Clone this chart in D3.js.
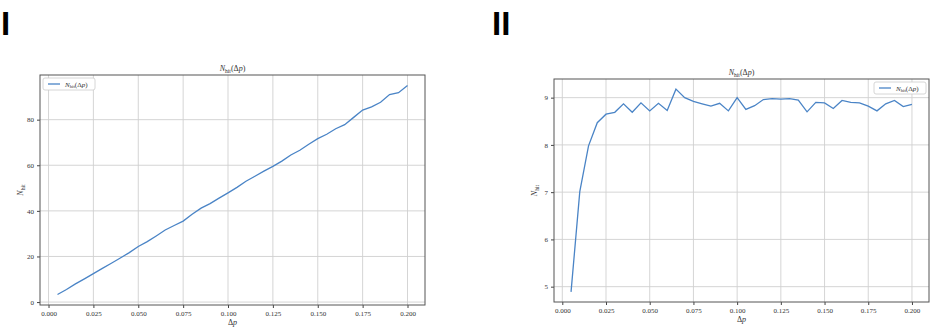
<!DOCTYPE html>
<html>
<head>
<meta charset="utf-8">
<script src="https://cdn.jsdelivr.net/npm/d3@7"></script>
<style>
  body { margin:0; background:#fff; }
  svg text { font-family: "Liberation Serif", "DejaVu Serif", serif; fill:#333; }
  .big { font-family: "Liberation Sans", "DejaVu Sans", sans-serif !important; font-weight:bold; fill:#000 !important; }
</style>
</head>
<body>
<div id="chart"></div>
<script>
// data, step 0.005
var dp = d3.range(1, 41).map(function(i){ return +(i*0.005).toFixed(3); });

var nhitI = [3.3, 5.5, 8, 10.2, 12.5, 14.8, 17, 19.3, 21.7, 24.4,
             26.5, 29, 31.6, 33.6, 35.5, 38.5, 41.2, 43.2, 45.6, 47.9,
             50.3, 53, 55.2, 57.4, 59.5, 61.8, 64.5, 66.6, 69.2, 71.7,
             73.6, 76, 77.8, 81, 84.2, 85.6, 87.6, 91, 91.8, 95];

var nhitII = [4.89, 7.01, 7.98, 8.47, 8.65, 8.69, 8.87, 8.69, 8.89, 8.72,
              8.88, 8.73, 9.18, 9.0, 8.92, 8.87, 8.82, 8.88, 8.72, 9.0,
              8.75, 8.83, 8.96, 8.98, 8.97, 8.98, 8.95, 8.70, 8.90, 8.89,
              8.77, 8.94, 8.90, 8.89, 8.82, 8.72, 8.87, 8.94, 8.81, 8.86];

var xTicks = [0, 0.025, 0.05, 0.075, 0.1, 0.125, 0.15, 0.175, 0.2];
var yTicksI = [0, 20, 40, 60, 80];
var yTicksII = [5, 6, 7, 8, 9];

var svg = d3.select("#chart").append("svg")
    .attr("width", 936).attr("height", 327);

svg.append("text").attr("class","big").attr("x", 1).attr("y", 35)
   .attr("font-size", 33).text("I");
svg.append("text").attr("class","big").attr("x", 492).attr("y", 35)
   .attr("font-size", 33).text("II");

function nhitLabel(sel, size){
  sel.append("tspan").attr("font-style","italic").attr("font-size", size).text("N");
  sel.append("tspan").attr("font-size", size*0.7).attr("dy", size*0.2).text("hit");
  sel.append("tspan").attr("font-size", size).attr("dy", -size*0.2).text("(Δ");
  sel.append("tspan").attr("font-size", size).attr("font-style","italic").text("p");
  sel.append("tspan").attr("font-size", size).text(")");
}

function panel(box, ys, yTicks, legendRight){
  var lo = d3.min(ys), hi = d3.max(ys), m = (hi-lo)*0.05;
  var xm = (0.2-0.005)*0.05;
  var x = d3.scaleLinear().domain([0.005-xm, 0.2+xm]).range([box.x0, box.x1]);
  var y = d3.scaleLinear().domain([lo-m, hi+m]).range([box.y1, box.y0]);
  var g = svg.append("g");

  // grid
  g.selectAll(".gx").data(xTicks).enter().append("line")
    .attr("x1", function(d){return x(d);}).attr("x2", function(d){return x(d);})
    .attr("y1", box.y0).attr("y2", box.y1)
    .attr("stroke", "#d0d0d0").attr("stroke-width", 0.9);
  g.selectAll(".gy").data(yTicks).enter().append("line")
    .attr("y1", function(d){return y(d);}).attr("y2", function(d){return y(d);})
    .attr("x1", box.x0).attr("x2", box.x1)
    .attr("stroke", "#d0d0d0").attr("stroke-width", 0.9);

  // axes
  var xa = g.append("g").attr("transform", "translate(0," + box.y1 + ")")
    .call(d3.axisBottom(x).tickValues(xTicks).tickFormat(d3.format(".3f")).tickSize(3).tickPadding(3));
  var ya = g.append("g").attr("transform", "translate(" + box.x0 + ",0)")
    .call(d3.axisLeft(y).tickValues(yTicks).tickFormat(d3.format("d")).tickSize(3).tickPadding(3));
  [xa, ya].forEach(function(a){
    a.select(".domain").remove();
    a.selectAll("text").attr("font-size", 7).attr("font-family", "Liberation Serif").attr("fill", "#333");
    a.selectAll("line").attr("stroke", "#444");
  });

  // series
  var line = d3.line().x(function(d,i){return x(dp[i]);}).y(function(d){return y(d);});
  g.append("path").datum(ys).attr("d", line)
    .attr("fill", "none").attr("stroke", "#4a84c6").attr("stroke-width", 1.3);

  // frame
  g.append("rect").attr("x", box.x0).attr("y", box.y0)
    .attr("width", box.x1-box.x0).attr("height", box.y1-box.y0)
    .attr("fill", "none").attr("stroke", "#555").attr("stroke-width", 1);

  // title + labels
  var cx = (box.x0+box.x1)/2;
  nhitLabel(g.append("text").attr("x", cx).attr("y", box.y0-4).attr("text-anchor","middle"), 8);
  var xl = g.append("text").attr("x", cx).attr("y", box.y1+20).attr("text-anchor","middle").attr("font-size", 8);
  xl.append("tspan").text("Δ");
  xl.append("tspan").attr("font-style","italic").text("p");
  var yl = g.append("text").attr("transform", "translate(" + (box.x0-17) + "," + ((box.y0+box.y1)/2) + ") rotate(-90)")
    .attr("text-anchor","middle");
  yl.append("tspan").attr("font-style","italic").attr("font-size", 8).text("N");
  yl.append("tspan").attr("font-size", 5.6).attr("dy", 1.6).text("hit");

  // legend
  var lw = 52, lh = 12;
  var lx = legendRight ? box.x1 - lw - 3 : box.x0 + 3;
  var ly = box.y0 + 3;
  g.append("rect").attr("x", lx).attr("y", ly).attr("width", lw).attr("height", lh).attr("rx", 2)
    .attr("fill", "#fff").attr("stroke", "#ccc").attr("stroke-width", 0.8);
  g.append("line").attr("x1", lx+5).attr("x2", lx+17).attr("y1", ly+lh/2).attr("y2", ly+lh/2)
    .attr("stroke", "#4a84c6").attr("stroke-width", 1.3);
  nhitLabel(g.append("text").attr("x", lx+22).attr("y", ly+lh/2+2.5), 7);
}

panel({x0:40, x1:425, y0:75, y1:305}, nhitI, yTicksI, false);
panel({x0:554, x1:929, y0:79, y1:302}, nhitII, yTicksII, true);
</script>
</body>
</html>
